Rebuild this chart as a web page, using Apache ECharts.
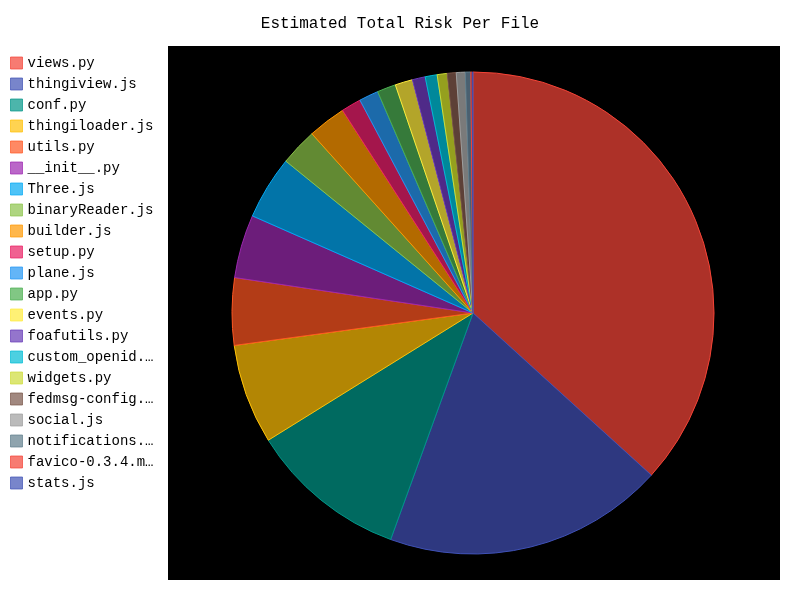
<!DOCTYPE html>
<html>
<head>
<meta charset="utf-8">
<script src="https://cdn.jsdelivr.net/npm/echarts@6/dist/echarts.min.js"></script>
<style>
  html, body { margin: 0; padding: 0; background: #fff; }
  #chart { width: 800px; height: 600px; }
</style>
</head>
<body>
<div id="chart"></div>
<script>
// files and their share of the estimated risk
const files = [
  'views.py', 'thingiview.js', 'conf.py', 'thingiloader.js', 'utils.py',
  '__init__.py', 'Three.js', 'binaryReader.js', 'builder.js', 'setup.py',
  'plane.js', 'app.py', 'events.py', 'foafutils.py', 'custom_openid.py',
  'widgets.py', 'fedmsg-config.py', 'social.js', 'notifications.js',
  'favico-0.3.4.min.js', 'stats.js'
];
const risk = [
  36.75, 18.8, 10.6, 6.7, 4.5,
  4.25, 4.25, 2.5, 2.55, 1.33,
  1.3, 1.25, 1.17, 0.87, 0.8,
  0.67, 0.6, 0.6, 0.37,
  0.09, 0.05
];

// slice fills (dark) and the brighter line / legend colours
const sliceColors = [
  '#ad3128', '#2e3880', '#006a60', '#b38604', '#b33c17',
  '#6c1d7a', '#0274a8', '#628a33', '#b36a00', '#a4164c',
  '#1c6aaa', '#367a3a', '#b3a52a', '#4f2a88', '#00889a',
  '#95a01e', '#5d4037', '#7a7a7a', '#4a6070', '#9c2b24', '#2a3270'
];
const brightColors = [
  '#f44336', '#3f51b5', '#009688', '#ffc107', '#ff5722',
  '#9c27b0', '#03a9f4', '#8bc34a', '#ff9800', '#e91e63',
  '#2196f3', '#4caf50', '#ffeb3b', '#673ab7', '#00bcd4',
  '#cddc39', '#795548', '#9e9e9e', '#607d8b', '#f44336', '#3f51b5'
];

const chart = echarts.init(document.getElementById('chart'));

const pieData = files.map((name, i) => ({
  name: name,
  value: risk[i],
  itemStyle: { color: sliceColors[i], borderColor: brightColors[i], borderWidth: 1 }
}));

const legendData = files.map((name, i) => ({
  name: name,
  itemStyle: { color: brightColors[i], opacity: 0.7, borderColor: brightColors[i], borderWidth: 1 }
}));

chart.setOption({
  animation: false,
  backgroundColor: '#fff',
  title: {
    text: 'Estimated Total Risk Per File',
    left: 'center',
    top: 11,
    textStyle: { fontFamily: 'Liberation Mono', fontSize: 16, fontWeight: 'normal', color: '#000' }
  },
  graphic: [{
    type: 'rect',
    z: -1,
    shape: { x: 168, y: 46, width: 612, height: 534 },
    style: { fill: '#000' }
  }],
  legend: {
    orient: 'vertical',
    left: 5,
    top: 51,
    icon: 'rect',
    itemWidth: 12,
    itemHeight: 12,
    itemGap: 7,
    data: legendData,
    textStyle: {
      fontFamily: 'Liberation Mono',
      fontSize: 14,
      color: '#000',
      width: 128,
      overflow: 'truncate',
      ellipsis: '…'
    }
  },
  series: [{
    type: 'pie',
    center: [473, 313],
    radius: [0, 241],
    startAngle: 90,
    clockwise: true,
    avoidLabelOverlap: false,
    label: { show: false },
    labelLine: { show: false },
    emphasis: { disabled: true },
    data: pieData
  }]
});
</script>
</body>
</html>
